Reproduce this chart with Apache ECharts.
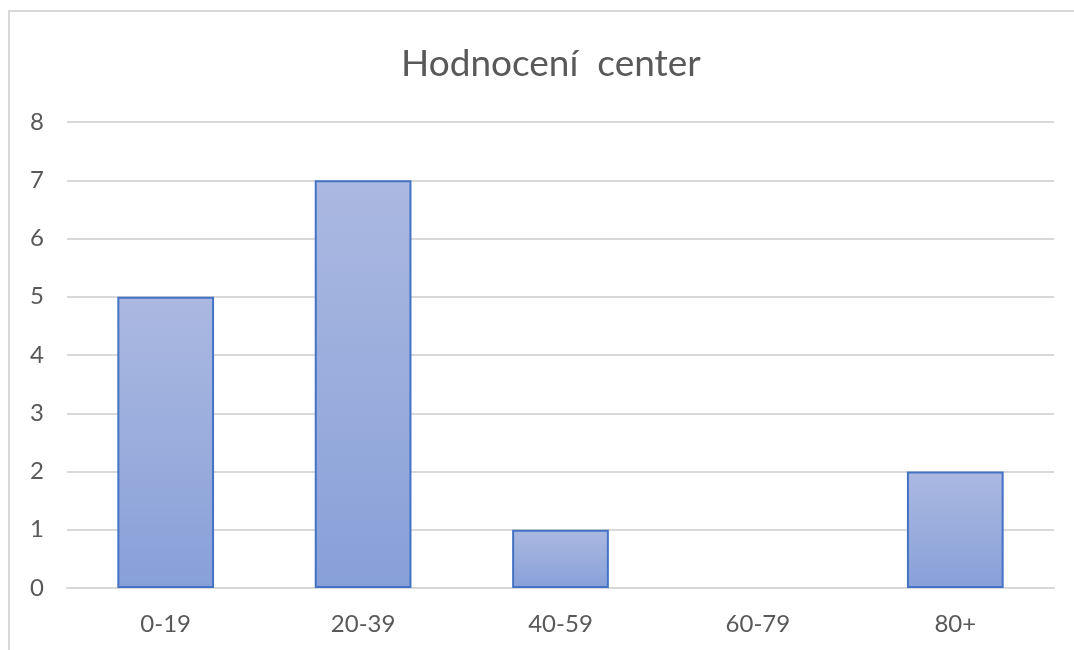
<!DOCTYPE html>
<html>
<head>
<meta charset="utf-8">
<script src="https://cdn.jsdelivr.net/npm/echarts@6/dist/echarts.min.js"></script>
<style>
  html, body { margin: 0; padding: 0; background: #fff; overflow: hidden; }
  #chart { width: 1074px; height: 650px; }
</style>
</head>
<body>
<div id="chart"></div>
<script>
// Hodnocení center: counts per score band
const categories = ['0-19', '20-39', '40-59', '60-79', '80+'];
const counts = [5, 7, 1, 0, 2];
const yTicks = { min: 0, max: 8, interval: 1 };

const chart = echarts.init(document.getElementById('chart'));
const textColor = '#595959';
const fontFamily = 'Lato, "Open Sans", sans-serif';

// empty bars get no outline
const barData = counts.map(v => v === 0 ? { value: v, itemStyle: { borderWidth: 0 } } : v);

chart.setOption({
  animation: false,
  title: {
    text: 'Hodnocení  center',
    left: 396, top: 41,
    textStyle: { color: textColor, fontSize: 37, fontWeight: 'normal', fontFamily },
  },
  graphic: [{
    type: 'polyline',
    shape: { points: [[9, 650], [9, 11], [1074, 11]] },
    style: { fill: 'none', stroke: '#d9d9d9', lineWidth: 2 },
    silent: true,
  }],
  grid: { left: 67, right: 20, top: 122, bottom: 62, containLabel: false },
  xAxis: {
    type: 'category',
    data: categories,
    axisLine: { show: true, lineStyle: { color: '#d9d9d9', width: 2 } },
    axisTick: { show: false },
    axisLabel: { color: textColor, fontSize: 24, margin: 24, fontFamily },
  },
  yAxis: {
    type: 'value',
    min: yTicks.min, max: yTicks.max, interval: yTicks.interval,
    axisLine: { show: false },
    axisTick: { show: false },
    axisLabel: { color: textColor, fontSize: 24, margin: 23, fontFamily },
    splitLine: { lineStyle: { color: '#d9d9d9', width: 2 } },
  },
  series: [{
    type: 'bar',
    data: barData,
    barWidth: '49%',
    itemStyle: {
      color: new echarts.graphic.LinearGradient(0, 0, 0, 1, [
        { offset: 0, color: '#abb9e1' },
        { offset: 1, color: '#88a0d8' },
      ]),
      borderColor: '#4472c4',
      borderWidth: 2,
    },
  }],
});
</script>
</body>
</html>
